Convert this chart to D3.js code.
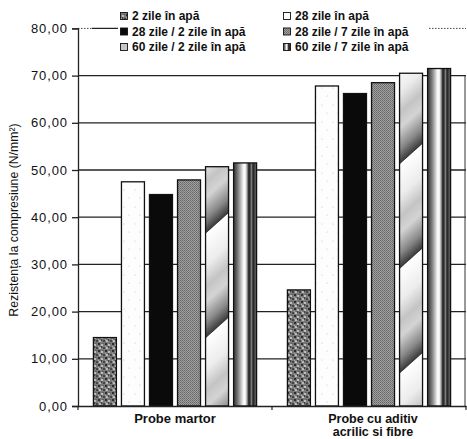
<!DOCTYPE html>
<html><head><meta charset="utf-8">
<script src="https://cdn.jsdelivr.net/npm/d3@7"></script>
<style>body{margin:0;background:#fff}svg{display:block}</style>
</head><body>
<svg id="c" width="467" height="439"></svg>
<script>
const categories = ["Probe martor", "Probe cu aditiv|acrilic si fibre"];
const seriesNames = ["2 zile în apă", "28 zile în apă", "28 zile / 2 zile în apă", "28 zile / 7 zile în apă", "60 zile / 2 zile în apă", "60 zile / 7 zile în apă"];
const valuesMartor = [14.5, 47.5, 44.8, 47.9, 50.7, 51.5];
const valuesAditiv = [24.6, 67.8, 66.2, 68.5, 70.5, 71.5];
const yTicks = [0, 10, 20, 30, 40, 50, 60, 70, 80];
const yTitle = "Rezistența la compresiune (N/mm²)";

const data = categories.map((c, i) => ({cat: c, vals: [valuesMartor, valuesAditiv][i]}));
const svg = d3.select("#c");
const defs = svg.append("defs");

// patterns
const p0 = defs.append("pattern").attr("id","p0").attr("patternUnits","userSpaceOnUse").attr("width",7).attr("height",7);
p0.append("rect").attr("width",7).attr("height",7).attr("fill","#7a7a7a");
[[1,1,"#2a2a2a",1.2],[4,2,"#d4d4d4",1],[6,5,"#333",1],[2,5,"#cfcfcf",1.1],[5,0,"#444",0.8],[0,3.5,"#bbb",0.8],[3.5,4,"#222",0.8]].forEach(d=>p0.append("circle").attr("cx",d[0]).attr("cy",d[1]).attr("r",d[3]).attr("fill",d[2]));
const p1 = defs.append("pattern").attr("id","p1").attr("patternUnits","userSpaceOnUse").attr("width",11).attr("height",17);
p1.append("rect").attr("width",11).attr("height",17).attr("fill","#fdfdfd");
[[3,3],[8,11]].forEach(d=>p1.append("circle").attr("cx",d[0]).attr("cy",d[1]).attr("r",0.6).attr("fill","#c4c4c4"));
const p3 = defs.append("pattern").attr("id","p3").attr("patternUnits","userSpaceOnUse").attr("width",2).attr("height",2);
p3.append("rect").attr("width",2).attr("height",2).attr("fill","#a0a0a0");
p3.append("rect").attr("width",1).attr("height",1).attr("fill","#666");
p3.append("rect").attr("x",1).attr("y",1).attr("width",1).attr("height",1).attr("fill","#777");
const g4 = defs.append("linearGradient").attr("id","p4").attr("gradientUnits","userSpaceOnUse")
  .attr("spreadMethod","repeat").attr("x1",0).attr("y1",0).attr("x2",52).attr("y2",58);
[[0,"#ffffff"],[0.3,"#ececec"],[0.5,"#c4c4c4"],[0.65,"#d4d4d4"],[0.85,"#888"],[0.99,"#3a3a3a"],[1,"#ffffff"]].forEach(s=>g4.append("stop").attr("offset",s[0]).attr("stop-color",s[1]));
const g5 = defs.append("linearGradient").attr("id","p5").attr("x1",0).attr("y1",0).attr("x2",1).attr("y2",0);
[[0,"#3a3a3a"],[0.1,"#555"],[0.25,"#999"],[0.42,"#f4f4f4"],[0.5,"#ffffff"],[0.58,"#aaa"],[0.66,"#222"],[0.72,"#333"],[0.77,"#888"],[0.82,"#444"],[0.88,"#222"],[0.94,"#666"],[1,"#333"]].forEach(s=>g5.append("stop").attr("offset",s[0]).attr("stop-color",s[1]));
const fills = ["url(#p0)","url(#p1)","#0a0a0a","url(#p3)","url(#p4)","url(#p5)"];

const y = d3.scaleLinear().domain([0, 80]).range([406, 28.4]);
const x0 = d3.scaleBand().domain(categories).range([78, 466]).paddingInner(0).paddingOuter(0);
const x1 = d3.scaleBand().domain(d3.range(6)).range([0, x0.bandwidth()]).paddingInner(0.18).paddingOuter(0.55);

// gridlines
svg.append("g").selectAll("line").data(yTicks.filter(t=>t>0 && t<80)).join("line")
  .attr("x1",78).attr("x2",466).attr("y1",d=>y(d)).attr("y2",d=>y(d))
  .attr("stroke","#222").attr("stroke-width",1.3);
svg.append("line").attr("x1",78).attr("x2",466).attr("y1",y(80)).attr("y2",y(80))
  .attr("stroke","#444").attr("stroke-width",1).attr("stroke-dasharray","1.5,1.5");
svg.append("line").attr("x1",92).attr("x2",122).attr("y1",y(80)).attr("y2",y(80)).attr("stroke","#222").attr("stroke-width",1.2);
// right frame
svg.append("line").attr("x1",465).attr("x2",465).attr("y1",y(70)).attr("y2",y(0)).attr("stroke","#333").attr("stroke-width",1);

// bars
const groups = svg.append("g").selectAll("g").data(data).join("g");
groups.selectAll("rect").data(d=>d.vals.map((v,i)=>({cat:d.cat,v,i}))).join("rect")
  .attr("x",d=>x0(d.cat)+x1(d.i)).attr("width",x1.bandwidth())
  .attr("y",d=>y(d.v)).attr("height",d=>y(0)-y(d.v))
  .attr("fill",d=>fills[d.i]).attr("stroke","#111").attr("stroke-width",1.3);

// y axis
const yAxis = d3.axisLeft(y).tickValues(yTicks).tickSize(6).tickFormat(d=>d.toFixed(2).replace(".",","));
const ya = svg.append("g").attr("transform","translate(78,0)").call(yAxis);
ya.select(".domain").attr("stroke","#222").attr("stroke-width",1.3);
ya.selectAll(".tick line").attr("stroke","#222").attr("stroke-width",1.3);
ya.selectAll("text").attr("font-family","Liberation Sans, Arial, sans-serif").attr("font-size",13).attr("letter-spacing",0.9).attr("fill","#111").attr("x",-10);

// x axis
const xa = svg.append("g").attr("transform","translate(0,406)").call(d3.axisBottom(x0).tickSize(0).tickFormat(""));
xa.select(".domain").attr("stroke","#222").attr("stroke-width",1.3);
[78, 78 + x0.bandwidth(), 466].forEach(xx=>svg.append("line").attr("x1",xx).attr("x2",xx).attr("y1",406).attr("y2",410).attr("stroke","#222").attr("stroke-width",1.2));
categories.forEach(c=>{
  const lines = c.split("|");
  const t = svg.append("text").attr("text-anchor","middle").attr("font-family","Liberation Sans, Arial, sans-serif")
    .attr("font-weight","bold").attr("font-size",lines.length>1?12.5:13).attr("fill","#111");
  lines.forEach((l,i)=>t.append("tspan").attr("x",x0(c)+x0.bandwidth()/2 + (lines.length>1?4:0)).attr("y",423+i*13).text(l));
});

// y title
svg.append("text").attr("transform","translate(18,220) rotate(-90)").attr("text-anchor","middle")
  .attr("font-family","Liberation Sans, Arial, sans-serif").attr("font-size",12.3).attr("fill","#111").text(yTitle);

// legend
const lg = svg.append("g");
lg.append("rect").attr("x",118).attr("y",4).attr("width",310).attr("height",52).attr("fill","#fff");
const legendPos = [[124,16],[287,16],[124,31.5],[287,31.5],[124,47],[287,47]];
seriesNames.forEach((n,i)=>{
  const [lx,ly] = legendPos[i];
  lg.append("rect").attr("x",lx-3.5).attr("y",ly-3.5).attr("width",7).attr("height",7).attr("fill",fills[i]).attr("stroke","#111").attr("stroke-width",0.9);
  lg.append("text").attr("x",lx+8).attr("y",ly+4).attr("font-family","Liberation Sans, Arial, sans-serif")
    .attr("font-weight","bold").attr("font-size",12).attr("fill","#111").text(n);
});
</script>
</body></html>
